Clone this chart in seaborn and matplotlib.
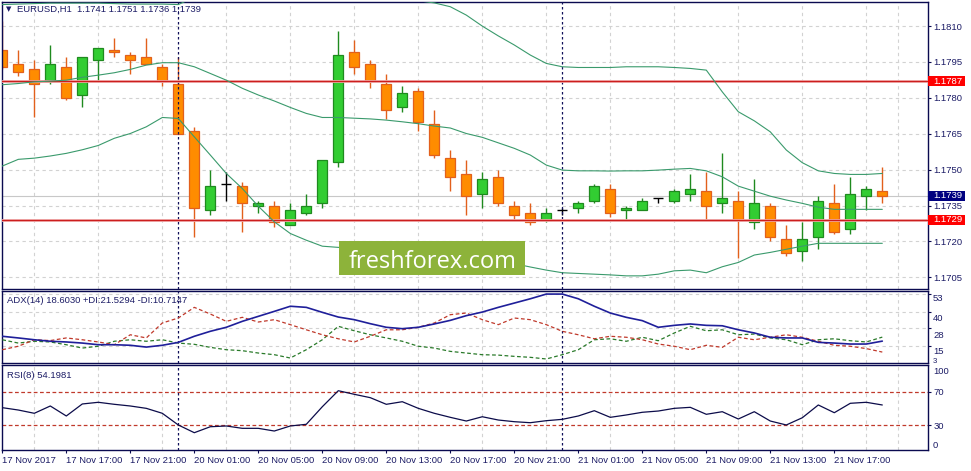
import numpy as np
import pandas as pd
import matplotlib
matplotlib.use("Agg")
import matplotlib.pyplot as plt
import seaborn as sns
from matplotlib.patches import Rectangle

# ---------------- data ----------------
opens = [1.1800, 1.1794, 1.1792, 1.1787, 1.1793, 1.1781, 1.1796, 1.1800, 1.1798, 1.1797,
         1.1793, 1.1786, 1.1766, 1.1733, 1.1744, 1.1743, 1.1735, 1.1735, 1.1727, 1.1732,
         1.1736, 1.1753, 1.1799, 1.1794, 1.1786, 1.1776, 1.1783, 1.1769, 1.1755, 1.1748,
         1.1740, 1.1747, 1.1735, 1.1732, 1.1729, 1.1733, 1.1734, 1.1737, 1.1742, 1.1733,
         1.1733, 1.1738, 1.1737, 1.1740, 1.1741, 1.1736, 1.1737, 1.1728, 1.1735, 1.1721,
         1.1716, 1.1722, 1.1736, 1.1725, 1.1739, 1.1741]
highs = [1.1812, 1.1800, 1.1796, 1.1802, 1.1797, 1.1797, 1.1801, 1.1805, 1.1799, 1.1805,
         1.1794, 1.1797, 1.1768, 1.1750, 1.1749, 1.1745, 1.1737, 1.1737, 1.1736, 1.1740,
         1.1754, 1.1808, 1.1804, 1.1796, 1.1790, 1.1785, 1.1784, 1.1775, 1.1758, 1.1754,
         1.1749, 1.1750, 1.1737, 1.1736, 1.1734, 1.1734, 1.1737, 1.1744, 1.1744, 1.1735,
         1.1738, 1.1738, 1.1742, 1.1748, 1.1749, 1.1757, 1.1741, 1.1746, 1.1736, 1.1727,
         1.1728, 1.1739, 1.1744, 1.1747, 1.1743, 1.1751]
lows = [1.1792, 1.1789, 1.1772, 1.1786, 1.1779, 1.1776, 1.1787, 1.1797, 1.1790, 1.1794,
        1.1785, 1.1765, 1.1722, 1.1731, 1.1737, 1.1724, 1.1732, 1.1726, 1.1727, 1.1731,
        1.1734, 1.1751, 1.1790, 1.1784, 1.1771, 1.1774, 1.1766, 1.1755, 1.1741, 1.1731,
        1.1734, 1.1735, 1.1729, 1.1727, 1.1728, 1.1731, 1.1732, 1.1736, 1.1730, 1.1729,
        1.1733, 1.1736, 1.1736, 1.1737, 1.1729, 1.1732, 1.1713, 1.1725, 1.1720, 1.1714,
        1.1712, 1.1717, 1.1723, 1.1723, 1.1733, 1.1736]
closes = [1.1793, 1.1791, 1.1786, 1.1794, 1.1780, 1.1797, 1.1801, 1.1799, 1.1796, 1.1794,
          1.1787, 1.1765, 1.1734, 1.1743, 1.1744, 1.1736, 1.1736, 1.1728, 1.1733, 1.1735,
          1.1754, 1.1798, 1.1793, 1.1787, 1.1775, 1.1782, 1.1770, 1.1756, 1.1747, 1.1739,
          1.1746, 1.1736, 1.1731, 1.1728, 1.1732, 1.1733, 1.1736, 1.1743, 1.1732, 1.1734,
          1.1737, 1.1738, 1.1741, 1.1742, 1.1735, 1.1738, 1.1729, 1.1736, 1.1722, 1.1715,
          1.1721, 1.1737, 1.1724, 1.1740, 1.1742, 1.1739]

bb_upper = [1.18190, 1.18192, 1.18194, 1.18196, 1.18196, 1.18196, 1.18196, 1.18194, 1.18192, 1.18192,
            1.18192, 1.18190, 1.18221, 1.18242, 1.18263, 1.18267, 1.18280, 1.18288, 1.18284, 1.18267,
            1.18259, 1.18259, 1.18255, 1.18250, 1.18242, 1.18230, 1.18206, 1.18197, 1.18181, 1.18146,
            1.18100, 1.18059, 1.18021, 1.17979, 1.17944, 1.17930, 1.17927, 1.17927, 1.17927, 1.17930,
            1.17930, 1.17930, 1.17927, 1.17923, 1.17916, 1.17825, 1.17742, 1.17704, 1.17658, 1.17582,
            1.17529, 1.17495, 1.17484, 1.17480, 1.17480, 1.17484]
bb_middle = [1.17855, 1.17860, 1.17867, 1.17870, 1.17874, 1.17886, 1.17895, 1.17905, 1.17919, 1.17937,
             1.17947, 1.17947, 1.17930, 1.17902, 1.17874, 1.17840, 1.17812, 1.17787, 1.17760, 1.17735,
             1.17718, 1.17718, 1.17715, 1.17712, 1.17707, 1.17700, 1.17692, 1.17682, 1.17674, 1.17651,
             1.17635, 1.17612, 1.17589, 1.17561, 1.17519, 1.17498, 1.17495, 1.17495, 1.17494, 1.17495,
             1.17495, 1.17498, 1.17502, 1.17505, 1.17495, 1.17470, 1.17431, 1.17410, 1.17389, 1.17373,
             1.17359, 1.17343, 1.17334, 1.17334, 1.17334, 1.17334]
bb_lower = [1.17515, 1.17543, 1.17548, 1.17557, 1.17568, 1.17583, 1.17601, 1.17631, 1.17651, 1.17679,
            1.17718, 1.17714, 1.17637, 1.17561, 1.17484, 1.17421, 1.17347, 1.17282, 1.17233, 1.17205,
            1.17180, 1.17175, 1.17170, 1.17168, 1.17163, 1.17160, 1.17156, 1.17153, 1.17149, 1.17142,
            1.17135, 1.17124, 1.17107, 1.17093, 1.17080, 1.17069, 1.17066, 1.17063, 1.17060, 1.17056,
            1.17056, 1.17063, 1.17077, 1.17080, 1.17069, 1.17094, 1.17112, 1.17143, 1.17154, 1.17167,
            1.17180, 1.17192, 1.17192, 1.17192, 1.17192, 1.17192]

adx = [22.1, 20.9, 19.6, 18.5, 18.0, 17.2, 16.0, 16.0, 15.6, 14.3,
       15.6, 17.7, 22.1, 25.7, 28.6, 32.9, 36.5, 40.1, 43.8, 43.0,
       39.4, 36.0, 34.1, 31.2, 28.6, 27.6, 28.6, 31.0, 33.6, 37.0,
       39.6, 43.0, 46.1, 49.2, 52.6, 52.6, 49.2, 43.8, 38.9, 35.8,
       33.4, 28.6, 30.0, 31.0, 30.0, 29.7, 26.8, 24.5, 21.4, 20.9,
       20.9, 17.7, 17.2, 16.5, 16.5, 18.6]
plus_di = [19.6, 17.2, 18.5, 18.0, 16.0, 13.6, 14.9, 18.5, 19.6, 18.5,
           19.6, 17.2, 16.3, 14.1, 12.4, 11.7, 10.0, 8.8, 6.4, 12.4,
           19.6, 29.3, 26.1, 23.2, 20.9, 18.5, 14.9, 13.6, 11.2, 10.0,
           8.8, 8.5, 7.6, 6.9, 5.7, 8.8, 12.4, 19.6, 20.3, 18.5,
           21.4, 18.9, 24.5, 29.3, 26.1, 26.8, 23.2, 23.7, 20.9, 19.6,
           16.0, 19.6, 20.3, 18.9, 18.0, 21.5]
minus_di = [12.4, 14.9, 19.6, 19.0, 20.9, 19.6, 18.0, 16.0, 23.2, 20.9,
            31.7, 35.3, 43.0, 38.2, 32.9, 35.8, 32.4, 34.1, 30.5, 26.8,
            23.2, 20.3, 18.0, 22.1, 26.8, 26.8, 28.6, 31.7, 37.7, 38.9,
            34.1, 30.5, 35.3, 34.1, 30.5, 25.7, 23.2, 20.3, 22.1, 21.4,
            19.6, 16.5, 14.9, 12.4, 15.6, 14.1, 21.4, 19.6, 21.4, 23.2,
            21.4, 18.5, 15.6, 14.9, 13.2, 10.7]
rsi = [51.0, 48.2, 44.3, 53.0, 41.1, 55.4, 57.4, 55.0, 53.0, 50.2,
       44.3, 30.4, 21.2, 28.3, 29.2, 26.4, 26.4, 23.2, 29.2, 31.2,
       52.1, 71.2, 66.9, 62.9, 55.0, 58.1, 50.2, 44.3, 39.5, 35.1,
       40.2, 36.3, 34.3, 33.1, 35.5, 37.1, 41.1, 47.4, 39.5, 42.3,
       45.5, 47.0, 50.2, 51.4, 43.1, 46.2, 37.5, 46.2, 35.1, 30.4,
       39.0, 54.2, 45.0, 56.2, 57.4, 54.2]

time_labels = ["17 Nov 2017", "17 Nov 17:00", "17 Nov 21:00", "20 Nov 01:00", "20 Nov 05:00",
               "20 Nov 09:00", "20 Nov 13:00", "20 Nov 17:00", "20 Nov 21:00", "21 Nov 01:00",
               "21 Nov 05:00", "21 Nov 09:00", "21 Nov 13:00", "21 Nov 17:00"]
price_ticks = [1.1810, 1.1795, 1.1780, 1.1765, 1.1750, 1.1735, 1.1720, 1.1705]
adx_ticks = [53, 40, 28, 15]
adx_min_label = "3"
rsi_levels = [70, 30]
day_breaks = [11, 35]
resistance = 1.1787
support = 1.1729
last_price = 1.1739
header = "EURUSD,H1  1.1741 1.1751 1.1736 1.1739"
adx_header = "ADX(14) 18.6030 +DI:21.5294 -DI:10.7147"
rsi_header = "RSI(8) 54.1981"
watermark = "freshforex.com"

# ---------------- style ----------------
sns.set_style("white")
plt.rcParams["font.family"] = ["Liberation Sans", "DejaVu Sans"]
NAVY = "#1c1c66"
BORDER = "#0a0a50"
GRID = "#d2d2d2"
FS = 6.8
ORANGE, ORANGE_E = "#ff8c00", "#e2601c"
GREEN, GREEN_E = "#32cd32", "#1f8a1f"

W, H = 971, 471
fig = plt.figure(figsize=(W / 100, H / 100), dpi=100)
fig.patch.set_facecolor("white")


def fx(px):
    return px / W


def fy(py):
    return 1 - py / H


LEFT, RIGHT = 1.7, 928.0
ax_p = fig.add_axes([fx(LEFT), fy(289), fx(RIGHT - LEFT), (289 - 1.7) / H])
ax_a = fig.add_axes([fx(LEFT), fy(363), fx(RIGHT - LEFT), (363 - 291.3) / H])
ax_r = fig.add_axes([fx(LEFT), fy(450), fx(RIGHT - LEFT), (450 - 365) / H])

n = len(opens)
idx = np.arange(n)
xlim = ((LEFT - 2.3) / 16, (RIGHT - 2.3) / 16)

for ax in (ax_p, ax_a, ax_r):
    ax.set_xlim(*xlim)
    ax.set_facecolor("white")
    for s in ax.spines.values():
        s.set_visible(True)
        s.set_color(BORDER)
        s.set_linewidth(1.0)
    ax.set_xticks(np.arange(0, n, 4))
    ax.set_xticks(np.arange(2, 58, 2), minor=True)
    ax.grid(which="minor", axis="x", color=GRID, linestyle=(0, (3, 3)), linewidth=0.8)
    ax.tick_params(axis="x", which="both", length=0, labelbottom=False)
    ax.yaxis.tick_right()
    ax.tick_params(axis="y", which="both", left=False, right=True, length=2.4,
                   color=BORDER, width=0.8, labelsize=FS, labelcolor=NAVY, pad=1.5)
    for b in day_breaks:
        ax.axvline(b, color="#10105a", linestyle=(0, (2, 2)), linewidth=0.9, zorder=3)

# ---------------- price pane ----------------
ax_p.set_ylim(1.17001, 1.18202)
ax_p.set_yticks(price_ticks)
ax_p.set_yticklabels([f"{v:.4f}" for v in price_ticks])
ax_p.grid(which="major", axis="y", color=GRID, linestyle=(0, (3, 3)), linewidth=0.8)

df = pd.DataFrame({"k": idx, "o": opens, "h": highs, "l": lows, "c": closes})
up = df[df.c > df.o]
dn = df[df.c < df.o]
fl = df[df.c == df.o]
bw = 0.62
ax_p.vlines(up.k, up.l, up.h, color=GREEN_E, linewidth=1.0, zorder=2)
ax_p.vlines(dn.k, dn.l, dn.h, color=ORANGE_E, linewidth=1.0, zorder=2)
ax_p.vlines(fl.k, fl.l, fl.h, color="black", linewidth=1.0, zorder=2)
ax_p.bar(up.k, up.c - up.o, bottom=up.o, width=bw, color=GREEN, edgecolor=GREEN_E,
         linewidth=0.9, zorder=2.5)
ax_p.bar(dn.k, dn.o - dn.c, bottom=dn.c, width=bw, color=ORANGE, edgecolor=ORANGE_E,
         linewidth=0.9, zorder=2.5)
ax_p.hlines(fl.o, fl.k - bw / 2, fl.k + bw / 2, color="black", linewidth=1.0, zorder=2.5)

band_color = "#3a9a6c"
for series in (bb_upper, bb_middle, bb_lower):
    sns.lineplot(x=idx, y=series, ax=ax_p, color=band_color, linewidth=0.8, zorder=4)

ax_p.axhline(last_price, color="#c8c8c8", linewidth=0.8, zorder=1.5)
for lvl in (resistance, support):
    ax_p.axhline(lvl, color="#f4b8b8", linewidth=2.0, zorder=3.4)
    ax_p.axhline(lvl, color="#cc1e1e", linewidth=1.0, zorder=3.5)

yt = ax_p.get_yaxis_transform()
half = 5 * 0.0000418
box_w = 37 / (RIGHT - LEFT)
for val, col in ((resistance, "#ff0000"), (last_price, "#000080"), (support, "#ff0000")):
    ax_p.add_patch(Rectangle((1.0, val - half), box_w, 2 * half, transform=yt,
                             facecolor=col, edgecolor="none", clip_on=False, zorder=10))
    ax_p.text(1.0 + 5 / (RIGHT - LEFT), val, f"{val:.4f}", transform=yt, ha="left",
              va="center", color="white", fontsize=FS, zorder=11, clip_on=False)

# ---------------- ADX pane ----------------
ax_a.set_ylim(2.8, 54.6)
ax_a.set_yticks(adx_ticks)
ax_a.set_yticklabels([])
ax_a.grid(which="major", axis="y", color=GRID, linestyle=(0, (3, 3)), linewidth=0.8)
sns.lineplot(x=idx, y=plus_di, ax=ax_a, color="#2a7a2a", linewidth=0.9,
             linestyle=(0, (3, 2)), zorder=3)
sns.lineplot(x=idx, y=minus_di, ax=ax_a, color="#c0392b", linewidth=0.9,
             linestyle=(0, (3, 2)), zorder=3)
sns.lineplot(x=idx, y=adx, ax=ax_a, color="#1f1f9a", linewidth=1.2, zorder=4)
ayt = ax_a.get_yaxis_transform()
xr = 1 + 5 / (RIGHT - LEFT)
for tv, lab_y in zip(adx_ticks, [49.2, 34.8, 22.5, 11.3]):
    ax_a.text(xr, lab_y, str(tv), transform=ayt, ha="left", va="center", fontsize=FS,
              color=NAVY, clip_on=False)
ax_a.text(xr, 3.6, adx_min_label, transform=ayt, ha="left", va="center", fontsize=5.6,
          color=NAVY, clip_on=False)

# ---------------- RSI pane ----------------
ax_r.set_ylim(0.6, 101.8)
ax_r.set_yticks(rsi_levels)
ax_r.set_yticklabels([str(v) for v in rsi_levels])
for lv in rsi_levels:
    ax_r.axhline(lv, color="#c0392b", linestyle=(0, (3, 2)), linewidth=0.9, zorder=2)
sns.lineplot(x=idx, y=rsi, ax=ax_r, color="#0c0c4a", linewidth=0.9, zorder=4)
ryt = ax_r.get_yaxis_transform()
ax_r.text(xr, 100, "100", transform=ryt, ha="left", va="top", fontsize=FS, color=NAVY,
          clip_on=False)
ax_r.text(xr, 0.6, "0", transform=ryt, ha="left", va="bottom", fontsize=FS, color=NAVY,
          clip_on=False)

ax_r.set_xticks(np.arange(0, n, 4))
ax_r.set_xticklabels(time_labels, ha="left")
ax_r.tick_params(axis="x", which="major", length=2.5, bottom=True, labelbottom=True,
                 color=BORDER, width=0.8, labelsize=FS, labelcolor=NAVY, pad=1.5)

for ax in (ax_p, ax_a, ax_r):
    ax.set_xlabel("")
    ax.set_ylabel("")
    if ax.get_legend() is not None:
        ax.get_legend().remove()

# ---------------- headers and watermark ----------------
fig.text(fx(6), fy(9.5), "\u25bc", fontsize=5, color=NAVY, va="center", ha="left",
         family=["DejaVu Sans"])
fig.text(fx(17), fy(9.5), header, fontsize=FS, color=NAVY, va="center", ha="left")
fig.text(fx(7), fy(300.5), adx_header, fontsize=FS, color=NAVY, va="center", ha="left")
fig.text(fx(7), fy(375), rsi_header, fontsize=FS, color=NAVY, va="center", ha="left")

fig.add_artist(Rectangle((fx(339), fy(274.7)), fx(186), (274.7 - 240.7) / H,
                         transform=fig.transFigure, facecolor="#8db33a",
                         edgecolor="none", zorder=20))
fig.text(fx(432.5), fy(268.3), watermark, fontsize=17, color="white", ha="center",
         va="baseline", family=["Open Sans", "DejaVu Sans"], zorder=21)

fig.savefig("out.png", dpi=100, facecolor="white")
